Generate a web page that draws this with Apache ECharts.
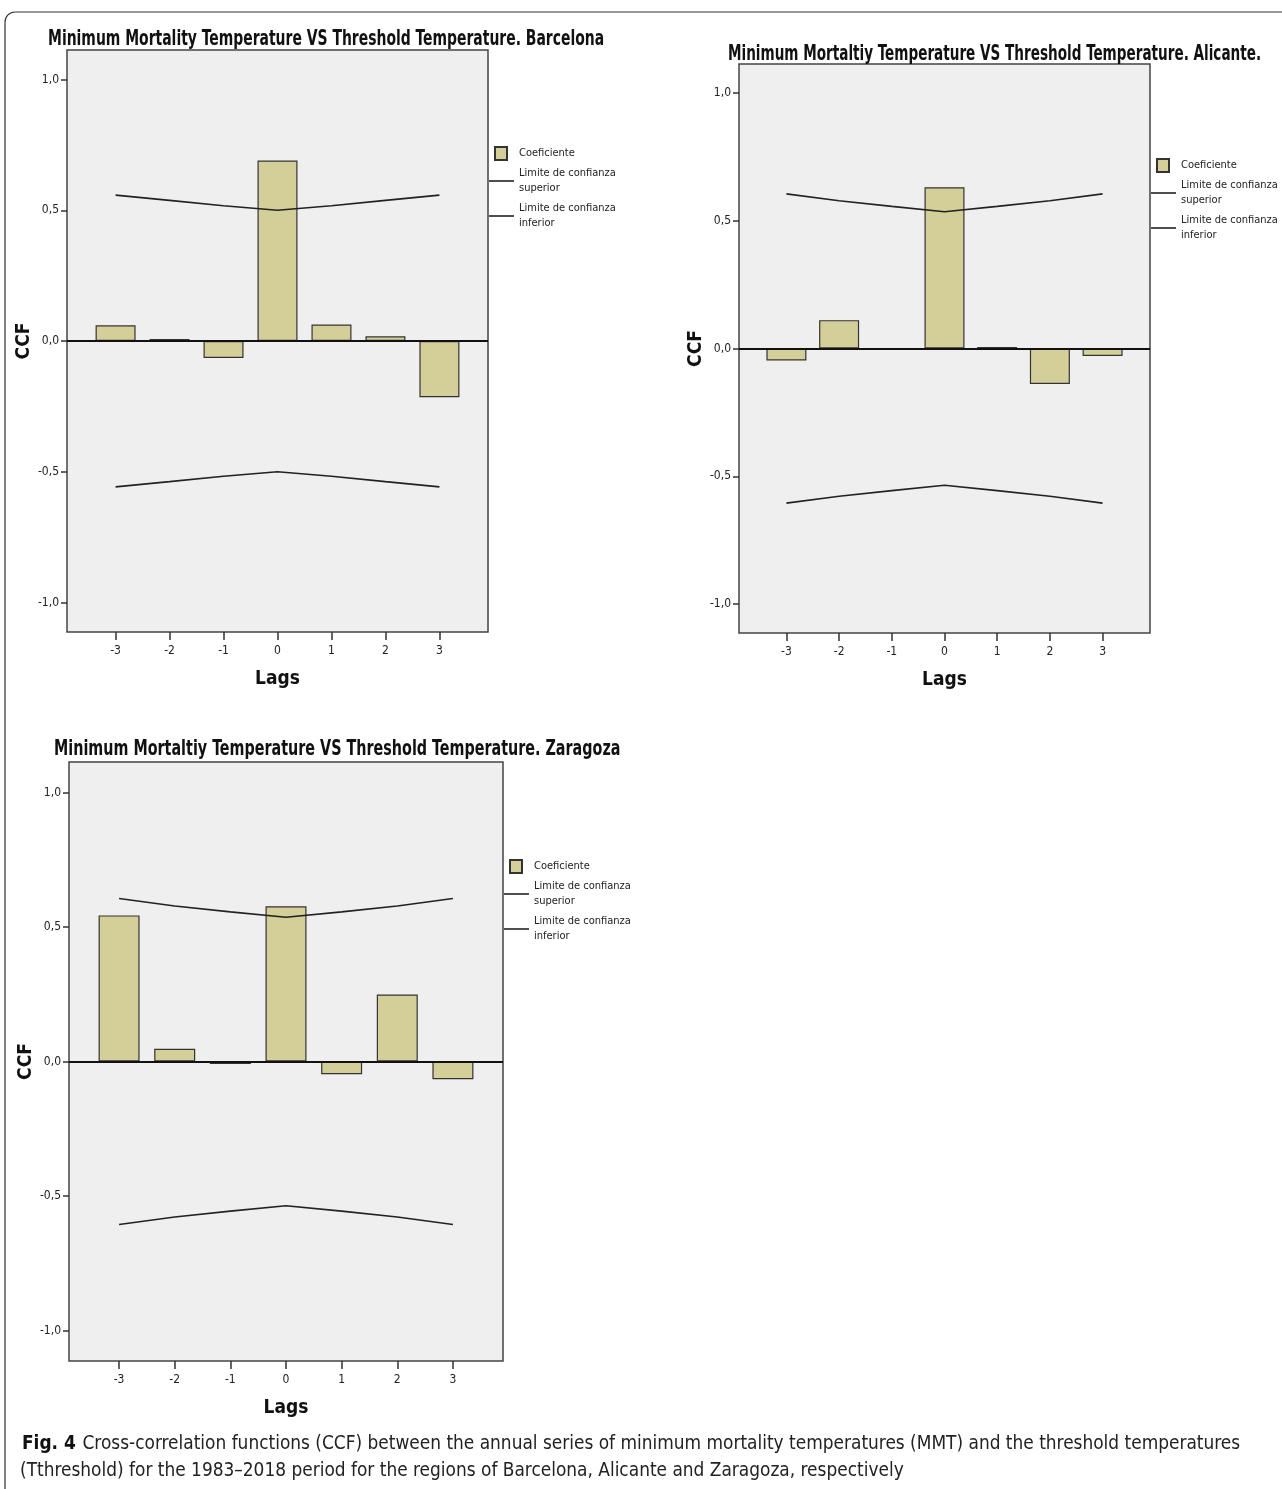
<!DOCTYPE html>
<html>
<head>
<meta charset="utf-8">
<script src="https://cdn.jsdelivr.net/npm/echarts@6/dist/echarts.min.js"></script>
<style>
html,body{margin:0;padding:0;background:#fff;}
#c{width:1282px;height:1489px;}
</style>
</head>
<body>
<div id="c"></div>
<script>
// ---- data ----
const lags = [-3, -2, -1, 0, 1, 2, 3];
const yTicks = [-1, -0.5, 0, 0.5, 1];
const titles = [
  'Minimum Mortality Temperature VS Threshold Temperature. Barcelona',
  'Minimum Mortaltiy Temperature VS Threshold Temperature. Alicante.',
  'Minimum Mortaltiy Temperature VS Threshold Temperature. Zaragoza'
];
const barcelonaCCF   = [0.060, 0.008, -0.065, 0.690, 0.063, 0.018, -0.215];
const barcelonaUpper = [0.558, 0.538, 0.517, 0.500, 0.517, 0.538, 0.558];
const barcelonaLower = [-0.558, -0.538, -0.517, -0.500, -0.517, -0.538, -0.558];
const alicanteCCF    = [-0.047, 0.111, 0.000, 0.631, 0.006, -0.139, -0.029];
const alicanteUpper  = [0.605, 0.578, 0.556, 0.535, 0.556, 0.578, 0.605];
const alicanteLower  = [-0.605, -0.578, -0.556, -0.535, -0.556, -0.578, -0.605];
const zaragozaCCF    = [0.543, 0.047, -0.009, 0.577, -0.047, 0.249, -0.066];
const zaragozaUpper  = [0.606, 0.578, 0.556, 0.536, 0.556, 0.578, 0.606];
const zaragozaLower  = [-0.606, -0.578, -0.556, -0.536, -0.556, -0.578, -0.606];
const seriesNames = ['Coeficiente', 'Limite de confianza\nsuperior', 'Limite de confianza\ninferior'];
const captionBold = 'Fig. 4';
const captionLine1 = 'Cross-correlation functions (CCF) between the annual series of minimum mortality temperatures (MMT) and the threshold temperatures';
const captionLine2 = '(Tthreshold) for the 1983\u20132018 period for the regions of Barcelona, Alicante and Zaragoza, respectively';

// ---- layout / style ----
const NARROW = '"Liberation Sans Narrow","DejaVu Sans Condensed","Arial Narrow",sans-serif';
const panels = [
  {ccf: barcelonaCCF, up: barcelonaUpper, lo: barcelonaLower, grid: {left: 67, top: 50, width: 421, height: 582}, title: {x: 48, y: 40, sx: 0.738}, legend: {left: 488, top: 145}, barW: 40},
  {ccf: alicanteCCF, up: alicanteUpper, lo: alicanteLower, grid: {left: 739, top: 64, width: 411, height: 569}, title: {x: 728, y: 55, sx: 0.719}, legend: {left: 1150, top: 157}, barW: 40},
  {ccf: zaragozaCCF, up: zaragozaUpper, lo: zaragozaLower, grid: {left: 69, top: 762, width: 434, height: 599}, title: {x: 54, y: 750, sx: 0.759}, legend: {left: 503, top: 858}, barW: 41}
];
const YMAX = 1.113, XMAX = 3.9;
const BAR_COLOR = '#d4cf98';

const option = {
  animation: false,
  backgroundColor: '#fff',
  textStyle: {fontFamily: NARROW},
  grid: [], xAxis: [], yAxis: [], legend: [], series: [],
  graphic: [
    {type: 'rect', shape: {x: 5, y: 12, width: 1300, height: 1500, r: 10}, style: {fill: 'none', stroke: '#333', lineWidth: 1.2}, silent: true},
    {type: 'text', x: 22, y: 1444, style: {
      text: '{b|' + captionBold + '}  {r|' + captionLine1 + '}', verticalAlign: 'middle',
      rich: {
        b: {fontFamily: NARROW, fontWeight: 'bold', fontSize: 18.9, fill: '#111'},
        r: {fontFamily: NARROW, fontSize: 18.9, fill: '#222'}
      }}},
    {type: 'text', x: 20, y: 1471, style: {text: captionLine2, fontFamily: NARROW, fontSize: 18.9, fill: '#222', verticalAlign: 'middle'}}
  ]
};

panels.forEach((p, i) => {
  option.graphic.push({
    type: 'text', x: p.title.x, y: p.title.y, scaleX: p.title.sx,
    style: {text: titles[i], fontFamily: NARROW, fontWeight: 'bold', fontSize: 21, fill: '#111', verticalAlign: 'middle'}
  });
  option.grid.push(Object.assign({show: true, backgroundColor: '#efefef', borderColor: '#444', borderWidth: 1.5, containLabel: false}, p.grid));
  option.xAxis.push({
    type: 'value', gridIndex: i, min: -XMAX, max: XMAX,
    name: 'Lags', nameLocation: 'middle', nameGap: 38,
    nameTextStyle: {fontFamily: NARROW, fontWeight: 'bold', fontSize: 19, color: '#111'},
    axisLine: {show: false, onZero: false}, splitLine: {show: false},
    axisTick: {show: true, customValues: lags, length: 8, lineStyle: {color: '#333', width: 1.5}},
    axisLabel: {customValues: lags, margin: 13, fontFamily: NARROW, fontSize: 12, color: '#222', formatter: v => String(v)}
  });
  option.yAxis.push({
    type: 'value', gridIndex: i, min: -YMAX, max: YMAX,
    name: 'CCF', nameLocation: 'middle', nameGap: 27, nameRotate: 90,
    nameTextStyle: {fontFamily: NARROW, fontWeight: 'bold', fontSize: 19, color: '#111'},
    axisLine: {show: false, onZero: false}, splitLine: {show: false},
    axisTick: {show: true, customValues: yTicks, length: 6, lineStyle: {color: '#333', width: 1.5}},
    axisLabel: {customValues: yTicks, margin: 8, fontFamily: NARROW, fontSize: 12, color: '#222',
      formatter: v => v.toFixed(1).replace('.', ',')}
  });
  option.legend.push({
    left: p.legend.left, top: p.legend.top, orient: 'vertical', itemGap: 5,
    itemWidth: 25, itemHeight: 14, padding: 0, selectedMode: false,
    textStyle: {fontFamily: NARROW, fontSize: 11, color: '#222', lineHeight: 15},
    data: [
      {name: seriesNames[0], icon: 'path://M0,0M25,14M6,1L18,1L18,14L6,14Z'},
      {name: seriesNames[1], icon: 'path://M0,0M25,14M0,6.2L25,6.2L25,7.8L0,7.8Z'},
      {name: seriesNames[2], icon: 'path://M0,0M25,14M0,6.2L25,6.2L25,7.8L0,7.8Z'}
    ]
  });
  option.series.push({
    type: 'bar', name: seriesNames[0], xAxisIndex: i, yAxisIndex: i, barWidth: p.barW,
    itemStyle: {color: BAR_COLOR, borderColor: '#333', borderWidth: 1.2},
    data: lags.map((l, k) => [l, p.ccf[k]]),
    markLine: {silent: true, symbol: 'none', label: {show: false},
      lineStyle: {color: '#111', width: 2, type: 'solid'}, data: [{yAxis: 0}]},
    z: 2
  });
  option.series.push({
    type: 'line', name: seriesNames[1], xAxisIndex: i, yAxisIndex: i, symbol: 'none',
    lineStyle: {color: '#222', width: 1.6}, itemStyle: {color: '#222'},
    data: lags.map((l, k) => [l, p.up[k]]), z: 3
  });
  option.series.push({
    type: 'line', name: seriesNames[2], xAxisIndex: i, yAxisIndex: i, symbol: 'none',
    lineStyle: {color: '#222', width: 1.6}, itemStyle: {color: '#222'},
    data: lags.map((l, k) => [l, p.lo[k]]), z: 3
  });
});

const chart = echarts.init(document.getElementById('c'));
chart.setOption(option);
</script>
</body>
</html>
